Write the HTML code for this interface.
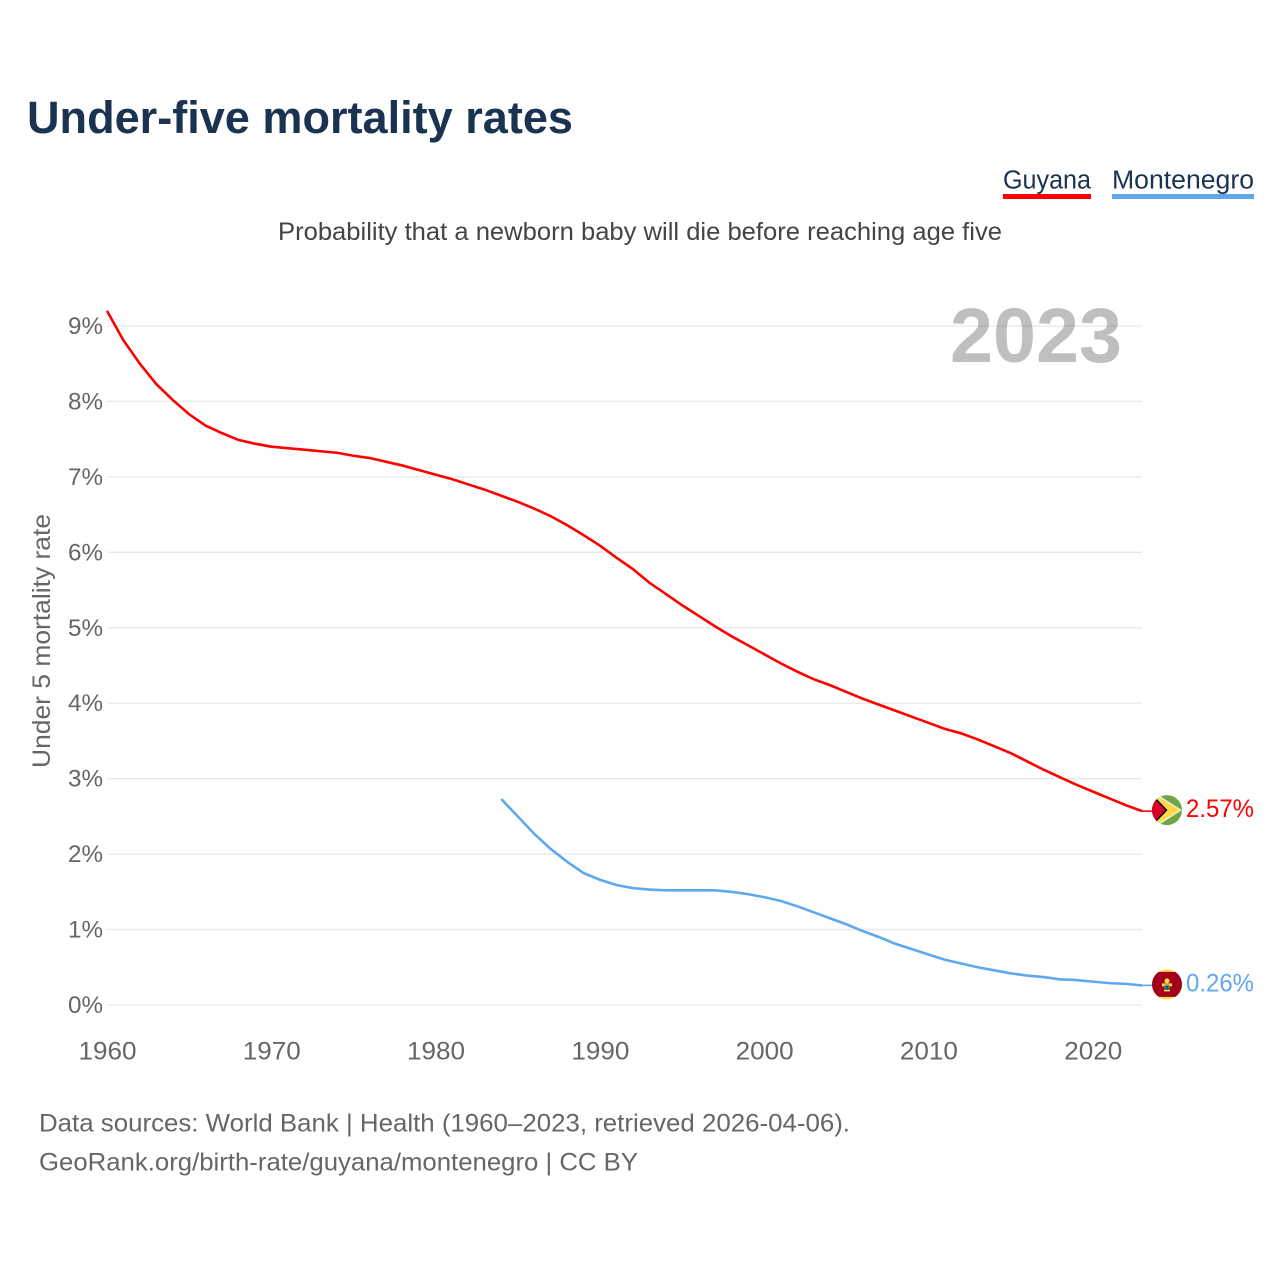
<!DOCTYPE html>
<html lang="en">
<head>
<meta charset="utf-8">
<title>Under-five mortality rates</title>
<style>
html,body{margin:0;padding:0;background:#fff;width:1280px;height:1280px;overflow:hidden}
svg{display:block}
text{font-family:"Liberation Sans",sans-serif}
</style>
</head>
<body>
<svg id="chart" width="1280" height="1280" viewBox="0 0 1280 1280" xmlns="http://www.w3.org/2000/svg">
  <rect x="0" y="0" width="1280" height="1280" fill="#fff"/>
  <text x="27" y="133" font-size="45" font-weight="bold" fill="#1a3350" textLength="546" lengthAdjust="spacingAndGlyphs">Under-five mortality rates</text>
  <text x="1003" y="188.500" font-size="25.500" fill="#1a3350" textLength="88" lengthAdjust="spacingAndGlyphs">Guyana</text>
  <rect x="1003" y="194" width="88" height="5" fill="#ff0000"/>
  <text x="1112" y="188.500" font-size="25.500" fill="#1a3350" textLength="142" lengthAdjust="spacingAndGlyphs">Montenegro</text>
  <rect x="1112" y="194" width="142" height="5" fill="#5fa8ee"/>
  <text x="278" y="240" font-size="25" fill="#444" textLength="724" lengthAdjust="spacingAndGlyphs">Probability that a newborn baby will die before reaching age five</text>
  <text x="1122" y="362" text-anchor="end" font-size="77" font-weight="bold" fill="#bfbfbf" textLength="172" lengthAdjust="spacingAndGlyphs">2023</text>
  <g id="grid"></g>
  <g id="y-ticks"></g>
  <g id="x-ticks"></g>
  <text transform="translate(50,641) rotate(-90)" text-anchor="middle" font-size="25" fill="#666" textLength="254" lengthAdjust="spacingAndGlyphs">Under 5 mortality rate</text>
  <g id="series"></g>
  <g id="guyana-flag">
    <clipPath id="gy-clip"><circle cx="0" cy="0" r="15"/></clipPath>
    <g clip-path="url(#gy-clip)">
      <rect x="-15" y="-15" width="30" height="30" fill="#6da544"/>
      <polygon points="-15,-19 15,0 -15,19" fill="#f0f0f0"/>
      <polygon points="-15,-17 13,0 -15,17" fill="#ffda44"/>
      <polygon points="-15,-16 0.500,0 -15,16" fill="#000"/>
      <polygon points="-15,-14 -1.500,0 -15,14" fill="#d80027"/>
    </g>
  </g>
  <g id="montenegro-flag">
    <clipPath id="me-clip"><circle cx="0" cy="0" r="15"/></clipPath>
    <g clip-path="url(#me-clip)">
      <rect x="-15" y="-15" width="30" height="30" fill="#ffda44"/>
      <rect x="-15" y="-12.500" width="30" height="25" fill="#a2001d"/>
      <circle cx="0" cy="-3.500" r="2.500" fill="#ffda44"/>
      <rect x="-5" y="-1" width="10" height="3" fill="#ffda44"/>
      <rect x="-2.500" y="0" width="5" height="5.500" fill="#6da544"/>
      <rect x="-1.500" y="1.500" width="3" height="4" fill="#0052b4"/>
      <rect x="-3" y="5.500" width="6" height="1.500" fill="#ffda44"/>
    </g>
  </g>
  <g id="end-labels"></g>
  <text x="39" y="1131.500" font-size="25" fill="#666" textLength="811" lengthAdjust="spacingAndGlyphs">Data sources: World Bank | Health (1960–2023, retrieved 2026-04-06).</text>
  <text x="39" y="1170.500" font-size="25" fill="#666" textLength="599" lengthAdjust="spacingAndGlyphs">GeoRank.org/birth-rate/guyana/montenegro | CC BY</text>
</svg>
<script>
const yTicks = [0, 1, 2, 3, 4, 5, 6, 7, 8, 9];
const xTicks = [1960, 1970, 1980, 1990, 2000, 2010, 2020];
const guyanaStartYear = 1960;
const guyanaValues = [9.20, 8.81, 8.50, 8.23, 8.02, 7.83, 7.68, 7.58, 7.49, 7.44,
  7.40, 7.38, 7.36, 7.34, 7.32, 7.28, 7.25, 7.20, 7.15, 7.09,
  7.03, 6.97, 6.90, 6.83, 6.75, 6.67, 6.58, 6.48, 6.36, 6.23,
  6.09, 5.93, 5.78, 5.60, 5.45, 5.30, 5.16, 5.02, 4.89, 4.77,
  4.65, 4.53, 4.42, 4.32, 4.24, 4.15, 4.06, 3.98, 3.90, 3.82,
  3.74, 3.66, 3.60, 3.52, 3.43, 3.34, 3.23, 3.12, 3.02, 2.92,
  2.83, 2.74, 2.65, 2.57];
const montenegroStartYear = 1984;
const montenegroValues = [2.73, 2.50, 2.27, 2.07, 1.90, 1.75,
  1.66, 1.59, 1.55, 1.53, 1.52, 1.52, 1.52, 1.52, 1.50, 1.47,
  1.43, 1.38, 1.31, 1.23, 1.15, 1.07, 0.98, 0.90, 0.81, 0.74,
  0.67, 0.60, 0.55, 0.50, 0.46, 0.42, 0.39, 0.37, 0.34, 0.33,
  0.31, 0.29, 0.28, 0.26];

const NS = 'http://www.w3.org/2000/svg';
const xLeft = 107, xRight = 1142, yZero = 1005, yNine = 326;
const xScale = year => xLeft + (year - 1960) * (xRight - xLeft) / 63;
const yScale = value => yZero - value * (yZero - yNine) / 9;
const formatValue = v => v.toFixed(2) + '%';

const grid = document.getElementById('grid');
const yGroup = document.getElementById('y-ticks');
const xGroup = document.getElementById('x-ticks');
const seriesGroup = document.getElementById('series');
const labelGroup = document.getElementById('end-labels');

yTicks.forEach(tick => {
  const line = document.createElementNS(NS, 'line');
  
  
  line.setAttribute('x1', xLeft);
  line.setAttribute('x2', xRight);
  line.setAttribute('y1', yScale(tick));
  line.setAttribute('y2', yScale(tick));
  line.setAttribute('stroke', '#000');
  line.setAttribute('stroke-opacity', '0.09');
  line.setAttribute('stroke-width', '1.3');
  grid.appendChild(line);

  const label = document.createElementNS(NS, 'text');
  
  
  label.setAttribute('x', 103);
  label.setAttribute('y', yScale(tick) + 8);
  label.setAttribute('text-anchor', 'end');
  label.setAttribute('font-size', '24.5');
  label.setAttribute('fill', '#666');
  label.setAttribute('textLength', '35');
  label.setAttribute('lengthAdjust', 'spacingAndGlyphs');
  label.textContent = tick + '%';
  yGroup.appendChild(label);
});

xTicks.forEach(tick => {
  const label = document.createElementNS(NS, 'text');
  
  
  label.setAttribute('x', xScale(tick) + 0.500);
  label.setAttribute('y', 1059.500);
  label.setAttribute('text-anchor', 'middle');
  label.setAttribute('font-size', '25');
  label.setAttribute('fill', '#666');
  label.setAttribute('textLength', '58');
  label.setAttribute('lengthAdjust', 'spacingAndGlyphs');
  label.textContent = tick;
  xGroup.appendChild(label);
});

function buildPoints(startYear, values) {
  return values.map((v, i) => xScale(startYear + i).toFixed(2) + ',' + yScale(v).toFixed(2)).join(' ');
}

const guyanaLine = document.createElementNS(NS, 'polyline');


guyanaLine.setAttribute('points', buildPoints(guyanaStartYear, guyanaValues));
guyanaLine.setAttribute('fill', 'none');
guyanaLine.setAttribute('stroke', '#ff0000');
guyanaLine.setAttribute('stroke-width', '2.6');
seriesGroup.appendChild(guyanaLine);

const montenegroLine = document.createElementNS(NS, 'polyline');


montenegroLine.setAttribute('points', buildPoints(montenegroStartYear, montenegroValues));
montenegroLine.setAttribute('fill', 'none');
montenegroLine.setAttribute('stroke', '#5fa8ee');
montenegroLine.setAttribute('stroke-width', '2.6');
seriesGroup.appendChild(montenegroLine);

const guyanaLast = guyanaValues[guyanaValues.length - 1];
const montenegroLast = montenegroValues[montenegroValues.length - 1];

const guyanaConnector = document.createElementNS(NS, 'line');


guyanaConnector.setAttribute('x1', xRight);
guyanaConnector.setAttribute('x2', xRight + 12);
guyanaConnector.setAttribute('y1', yScale(guyanaLast));
guyanaConnector.setAttribute('y2', yScale(guyanaLast));
guyanaConnector.setAttribute('stroke', '#ff0000');
guyanaConnector.setAttribute('stroke-width', '1.6');
seriesGroup.appendChild(guyanaConnector);

const montenegroConnector = document.createElementNS(NS, 'line');


montenegroConnector.setAttribute('x1', xRight);
montenegroConnector.setAttribute('x2', xRight + 12);
montenegroConnector.setAttribute('y1', yScale(montenegroLast));
montenegroConnector.setAttribute('y2', yScale(montenegroLast));
montenegroConnector.setAttribute('stroke', '#5fa8ee');
montenegroConnector.setAttribute('stroke-width', '1.6');
seriesGroup.appendChild(montenegroConnector);

document.getElementById('guyana-flag').setAttribute('transform', 'translate(1167,' + (yScale(guyanaLast) - 1) + ')');
document.getElementById('montenegro-flag').setAttribute('transform', 'translate(1167,' + (yScale(montenegroLast) - 1) + ')');

const guyanaLabel = document.createElementNS(NS, 'text');


guyanaLabel.setAttribute('x', 1186);
guyanaLabel.setAttribute('y', yScale(guyanaLast) + 6);
guyanaLabel.setAttribute('font-size', '25');
guyanaLabel.setAttribute('fill', '#ff0000');
guyanaLabel.setAttribute('textLength', '68');
guyanaLabel.setAttribute('lengthAdjust', 'spacingAndGlyphs');
guyanaLabel.textContent = formatValue(guyanaLast);
labelGroup.appendChild(guyanaLabel);

const montenegroLabel = document.createElementNS(NS, 'text');


montenegroLabel.setAttribute('x', 1186);
montenegroLabel.setAttribute('y', yScale(montenegroLast) + 6);
montenegroLabel.setAttribute('font-size', '25');
montenegroLabel.setAttribute('fill', '#5fa8ee');
montenegroLabel.setAttribute('textLength', '68');
montenegroLabel.setAttribute('lengthAdjust', 'spacingAndGlyphs');
montenegroLabel.textContent = formatValue(montenegroLast);
labelGroup.appendChild(montenegroLabel);
</script>
</body>
</html>
